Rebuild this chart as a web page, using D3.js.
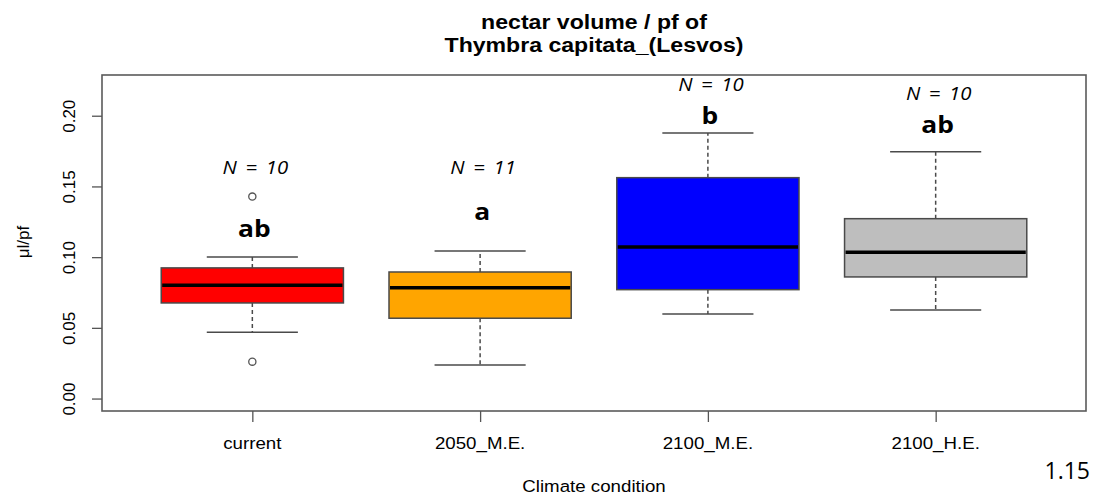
<!DOCTYPE html>
<html>
<head>
<meta charset="utf-8">
<script src="https://cdn.jsdelivr.net/npm/d3@7"></script>
<style>
  body { margin: 0; background: #fff; }
  svg { display: block; }
  .rtext { font-family: "Liberation Sans", Arial, sans-serif; fill: #000; }
  .note { font-family: "Open Sans", "Noto Sans", sans-serif; fill: #000; }
</style>
</head>
<body>
<div id="chart"></div>
<script>
// values
const categories = ["current", "2050_M.E.", "2100_M.E.", "2100_H.E."]
const colors = ["#ff0000", "#ffa500", "#0000ff", "#bebebe"]
const whiskerLow = [0.0469, 0.0238, 0.0598, 0.0627]
const q1 = [0.0676, 0.0568, 0.0770, 0.0860]
const median = [0.0801, 0.0784, 0.1072, 0.1035]
const q3 = [0.0924, 0.0895, 0.1562, 0.1272]
const whiskerHigh = [0.1001, 0.1044, 0.1878, 0.1746]
const outliers = [[0.1428, 0.0261], [], [], []]
const nLabels = ["N = 10", "N = 11", "N = 10", "N = 10"]
const nLabelY = [0.1588, 0.1588, 0.2175, 0.2111]
const letters = ["ab", "a", "b", "ab"]
const letterY = [0.1143, 0.1263, 0.1940, 0.1876]
const yTicks = [0, 0.05, 0.1, 0.15, 0.2]

const width = 1094, height = 497
const plotLeft = 102, plotRight = 1086, plotTop = 75, plotBottom = 411
const sx = 1.1 // picture is a bit wider than tall

const svg = d3.select("#chart").append("svg")
  .attr("width", width).attr("height", height)
svg.append("rect").attr("width", width).attr("height", height).attr("fill", "#fff")

// R style: xlim 0.5..4.5 extended 4%, ylim 0..0.22 extended 4%
const x = d3.scaleLinear().domain([0.34, 4.66]).range([plotLeft, plotRight])
const y = d3.scaleLinear().domain([-0.0088, 0.2288]).range([plotBottom, plotTop])

function stretched(g, px, py, str, cls) {
  return g.append("g")
    .attr("transform", `translate(${px},${py}) scale(${sx},1)`)
    .append("text").attr("class", cls).text(str)
}

const boxes = categories.map((c, i) => ({
  c, i, pos: i + 1, color: colors[i],
  lo: whiskerLow[i], q1: q1[i], med: median[i], q3: q3[i], hi: whiskerHigh[i],
  out: outliers[i]
}))

const half = x(1.4) - x(1)
const cap = half / 2
const edge = "#4a4a4a"

const g = svg.append("g")

// whiskers
g.selectAll(".wh").data(boxes).enter().append("g").each(function (d) {
  const s = d3.select(this)
  const cx = x(d.pos)
  s.append("line").attr("x1", cx).attr("x2", cx).attr("y1", y(d.q3)).attr("y2", y(d.hi))
    .attr("stroke", edge).attr("stroke-width", 1.5).attr("stroke-dasharray", "4,3")
  s.append("line").attr("x1", cx).attr("x2", cx).attr("y1", y(d.q1)).attr("y2", y(d.lo))
    .attr("stroke", edge).attr("stroke-width", 1.5).attr("stroke-dasharray", "4,3")
  s.append("line").attr("x1", cx - cap).attr("x2", cx + cap).attr("y1", y(d.hi)).attr("y2", y(d.hi))
    .attr("stroke", edge).attr("stroke-width", 1.5)
  s.append("line").attr("x1", cx - cap).attr("x2", cx + cap).attr("y1", y(d.lo)).attr("y2", y(d.lo))
    .attr("stroke", edge).attr("stroke-width", 1.5)
})

// boxes
g.selectAll(".box").data(boxes).enter().append("rect")
  .attr("x", (d) => x(d.pos) - half)
  .attr("width", half * 2)
  .attr("y", (d) => y(d.q3))
  .attr("height", (d) => y(d.q1) - y(d.q3))
  .attr("fill", (d) => d.color)
  .attr("stroke", edge).attr("stroke-width", 1.5)

// medians
g.selectAll(".med").data(boxes).enter().append("line")
  .attr("x1", (d) => x(d.pos) - half + 1)
  .attr("x2", (d) => x(d.pos) + half - 1)
  .attr("y1", (d) => y(d.med)).attr("y2", (d) => y(d.med))
  .attr("stroke", "#000").attr("stroke-width", 3.5)

// outliers
const outPts = boxes.flatMap((d) => d.out.map((v) => ({ pos: d.pos, v })))
g.selectAll(".out").data(outPts).enter().append("circle")
  .attr("cx", (d) => x(d.pos)).attr("cy", (d) => y(d.v)).attr("r", 3.6)
  .attr("fill", "none").attr("stroke", "#555").attr("stroke-width", 1.3)

// plot frame
svg.append("rect").attr("x", plotLeft).attr("y", plotTop)
  .attr("width", plotRight - plotLeft).attr("height", plotBottom - plotTop)
  .attr("fill", "none").attr("stroke", "#5a5a5a").attr("stroke-width", 1.6)

// y axis
const yAxis = svg.append("g").attr("transform", `translate(${plotLeft},0)`)
  .call(d3.axisLeft(y).tickValues(yTicks).tickSize(10).tickPadding(0).tickFormat(d3.format(".2f")))
yAxis.select(".domain").remove()
yAxis.selectAll(".tick line").attr("stroke", "#555").attr("stroke-width", 1.3)
yAxis.selectAll(".tick text").remove()
yAxis.selectAll(".tick").append("text")
  .attr("class", "rtext")
  .attr("transform", "translate(-27,0) rotate(-90)")
  .attr("text-anchor", "middle")
  .attr("font-size", 17)
  .text((d) => d3.format(".2f")(d))

// x axis
const xAxis = svg.append("g").attr("transform", `translate(0,${plotBottom})`)
  .call(d3.axisBottom(x).tickValues(boxes.map((d) => d.pos)).tickSize(11).tickFormat(""))
xAxis.select(".domain").remove()
xAxis.selectAll(".tick line").attr("stroke", "#555").attr("stroke-width", 1.3)
boxes.forEach((d) => {
  stretched(svg, x(d.pos), 449, d.c, "rtext").attr("text-anchor", "middle").attr("font-size", 17)
})

// axis titles
stretched(svg, (plotLeft + plotRight) / 2, 492, "Climate condition", "rtext")
  .attr("text-anchor", "middle").attr("font-size", 17)
svg.append("text").attr("class", "rtext")
  .attr("transform", "translate(29,242) rotate(-90)")
  .attr("text-anchor", "middle").attr("font-size", 17)
  .text("μl/pf")

// title
stretched(svg, (plotLeft + plotRight) / 2, 29, "nectar volume / pf of", "rtext")
  .attr("text-anchor", "middle").attr("font-size", 21).attr("font-weight", "bold")
stretched(svg, (plotLeft + plotRight) / 2, 52, "Thymbra capitata_(Lesvos)", "rtext")
  .attr("text-anchor", "middle").attr("font-size", 21).attr("font-weight", "bold")

// annotations
boxes.forEach((d) => {
  stretched(svg, x(d.pos) + 3, y(nLabelY[d.i]), nLabels[d.i], "note")
    .attr("text-anchor", "middle").attr("font-size", 18.5).attr("font-style", "italic")
    .attr("word-spacing", 3)
  stretched(svg, x(d.pos) + 2, y(letterY[d.i]), letters[d.i], "note")
    .attr("text-anchor", "middle").attr("font-size", 24).attr("font-weight", "bold")
})

// page number
svg.append("text").attr("class", "note")
  .attr("x", 1090).attr("y", 479).attr("text-anchor", "end")
  .attr("font-size", 23).attr("fill", "#222")
  .text("1.15")
</script>
</body>
</html>
